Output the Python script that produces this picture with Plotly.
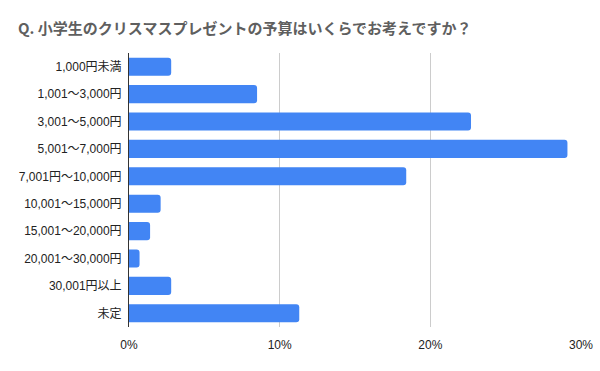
import plotly.graph_objects as go

categories = ["1,000円未満", "1,001～3,000円", "3,001～5,000円", "5,001～7,000円",
              "7,001円～10,000円", "10,001～15,000円", "15,001～20,000円",
              "20,001～30,000円", "30,001円以上", "未定"]
values = [2.8, 8.5, 22.7, 29.1, 18.4, 2.1, 1.4, 0.7, 2.8, 11.3]
x_ticks = [0, 10, 20, 30]
x_tick_labels = ["0%", "10%", "20%", "30%"]
title = "Q. 小学生のクリスマスプレゼントの予算はいくらでお考えですか？"

font = "Liberation Sans, Arial, Noto Sans CJK JP, sans-serif"

fig = go.Figure(go.Bar(
    y=categories, x=values, orientation="h",
    marker=dict(color="#4285F4", cornerradius=3, line=dict(width=0)),
    hoverinfo="x+y",
))

fig.update_layout(
    width=600, height=371,
    margin=dict(l=129, r=19, t=53, b=44, autoexpand=False),
    paper_bgcolor="white", plot_bgcolor="white",
    bargap=0.34,
    showlegend=False,
    font=dict(family=font, color="#222222", size=12),
    title=dict(text=title, x=0.03, xanchor="left", y=0.922, yanchor="middle",
               font=dict(family="Noto Sans CJK JP, sans-serif", size=15,
                         color="#5f5f5f", weight="bold")),
)
fig.update_xaxes(range=[0, 30], tickvals=x_ticks, ticktext=x_tick_labels,
                 showgrid=True, gridcolor="#cccccc", gridwidth=1,
                 zeroline=False, showline=False, ticks="", fixedrange=True,
                 automargin=False, ticklabelstandoff=9,
                 tickfont=dict(size=12, color="#222222"))
fig.update_yaxes(autorange="reversed", showline=True, linecolor="#333333", linewidth=1,
                 ticks="", ticklabelstandoff=4, fixedrange=True, automargin=False,
                 tickfont=dict(size=12, color="#222222"))

fig.write_html("out.html", config={"displayModeBar": False},
               post_script="document.body.style.margin='0';document.body.style.overflow='hidden';")
